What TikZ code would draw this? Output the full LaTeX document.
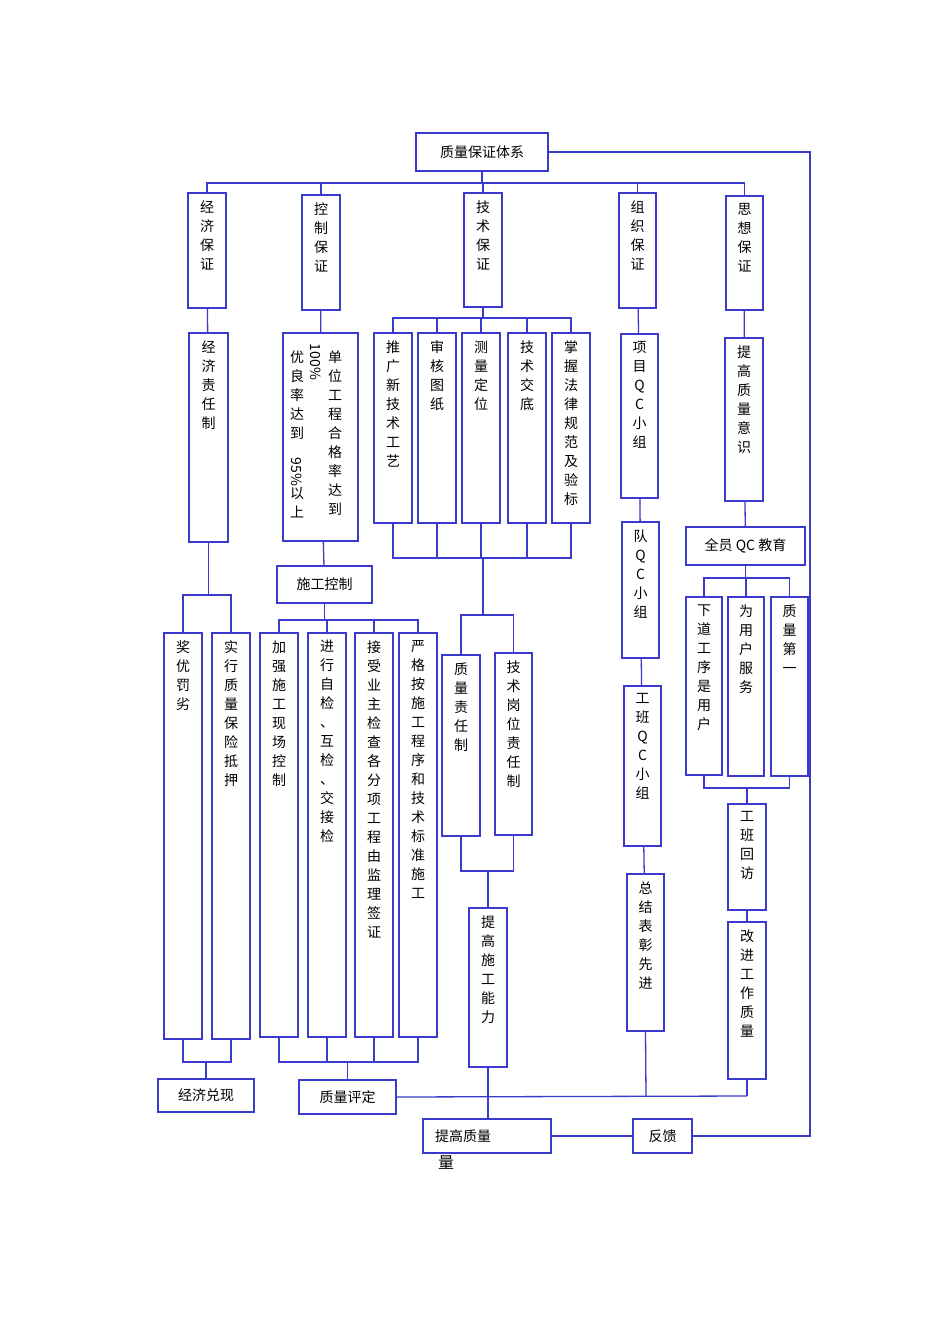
\documentclass[tikz,border=0pt]{standalone}
\usepackage{fontspec}
\setmainfont{Noto Sans CJK SC}
\definecolor{lb}{HTML}{3A3ACC}
\newcommand\VB[6]{\node[box,minimum width={#4pt-#2pt},minimum height={#5pt-#3pt},label={[vlab]north:{#6}}] (#1) at ({(#2+#4)/2},{(#3+#5)/2}) {};}
\newcommand\HB[6]{\node[box,minimum width={#4pt-#2pt},minimum height={#5pt-#3pt},font=\fontsize{14}{16}\selectfont] (#1) at ({(#2+#4)/2},{(#3+#5)/2}) {#6};}
\begin{document}
\begin{tikzpicture}[x=1pt,y=-1pt,
 box/.style={draw=lb,line width=1.4pt,inner sep=0pt,rectangle},
 vlab/.style={anchor=north,yshift=-8pt,inner sep=0pt,align=center,font=\fontsize{14}{19}\selectfont},
 ln/.style={draw=lb,line width=1.3pt}]
\useasboundingbox (0,0) rectangle (950,1344);
\HB{top}{416}{133}{548}{171}{质量保证体系}
\VB{jjbz}{188}{193}{226}{308}{经\\济\\保\\证}
\VB{kzbz}{302}{195}{340}{310}{控\\制\\保\\证}
\VB{jsbz}{464}{193}{502}{307}{技\\术\\保\\证}
\VB{zzbz}{619}{193}{656}{308}{组\\织\\保\\证}
\VB{sxbz}{726}{196}{763}{310}{思\\想\\保\\证}
\VB{jjzr}{189}{333}{228}{542}{经\\济\\责\\任\\制}
\node[box,minimum width=75pt,minimum height=208pt] (dwgc) at (320.5,437) {};
\node[vlab,anchor=north] (dwt1) at (335,343) {单\\位\\工\\程\\合\\格\\率\\达\\到};
\node[inner sep=0pt,rotate=-90,font=\fontsize{14}{16}\selectfont] (dwt2) at (316,362) {100\%};
\node[vlab,anchor=north] (dwt3) at (297,343) {优\\良\\率\\达\\到\\\rotatebox{-90}{95\%}\\以\\上};
\VB{tg}{374}{333}{412}{523}{推\\广\\新\\技\\术\\工\\艺}
\VB{sh}{418}{333}{456}{523}{审\\核\\图\\纸}
\VB{cl}{462}{333}{500}{523}{测\\量\\定\\位}
\VB{jd}{508}{333}{546}{523}{技\\术\\交\\底}
\VB{zw}{552}{333}{590}{523}{掌\\握\\法\\律\\规\\范\\及\\验\\标}
\VB{xm}{621}{334}{658}{498}{项\\目\\Q\\C\\小\\组}
\VB{tgzl}{725}{338}{763}{501}{提\\高\\质\\量\\意\\识}
\VB{dqc}{622}{522}{659}{658}{队\\Q\\C\\小\\组}
\HB{qy}{686}{527}{805}{565}{全员 QC 教育}
\HB{sgkz}{277}{566}{372}{603}{施工控制}
\VB{jy}{164}{633}{202}{1039}{奖\\优\\罚\\劣}
\VB{sx}{212}{633}{250}{1039}{实\\行\\质\\量\\保\\险\\抵\\押}
\VB{jq}{260}{633}{298}{1037}{加\\强\\施\\工\\现\\场\\控\\制}
\VB{jx}{308}{633}{346}{1037}{进\\行\\自\\检\\、\\互\\检\\、\\交\\接\\检}
\VB{js}{355}{633}{393}{1037}{接\\受\\业\\主\\检\\查\\各\\分\\项\\工\\程\\由\\监\\理\\签\\证}
\VB{yg}{399}{633}{437}{1037}{严\\格\\按\\施\\工\\程\\序\\和\\技\\术\\标\\准\\施\\工}
\VB{zlzr}{442}{655}{480}{836}{质\\量\\责\\任\\制}
\VB{jsgw}{495}{653}{532}{835}{技\\术\\岗\\位\\责\\任\\制}
\VB{xd}{686}{597}{722}{775}{下\\道\\工\\序\\是\\用\\户}
\VB{wy}{728}{597}{764}{776}{为\\用\\户\\服\\务}
\VB{zd}{771}{597}{808}{776}{质\\量\\第\\一}
\VB{gb}{624}{686}{661}{846}{工\\班\\Q\\C\\小\\组}
\VB{gbhf}{728}{804}{766}{910}{工\\班\\回\\访}
\VB{zj}{627}{874}{664}{1031}{总\\结\\表\\彰\\先\\进}
\VB{tgsg}{469}{908}{507}{1067}{提\\高\\施\\工\\能\\力}
\VB{gj}{728}{922}{766}{1079}{改\\进\\工\\作\\质\\量}
\HB{jjdx}{158}{1079}{254}{1112}{经济兑现}
\HB{zlpd}{299}{1080}{396}{1114}{质量评定}
\node[box,minimum width=128pt,minimum height=34pt] (tgzl2) at (487,1136) {};
\node[inner sep=0pt,font=\fontsize{14}{16}\selectfont,anchor=west] (tgt) at (435,1136) {提高质量};
\node[inner sep=0pt,font=\fontsize{16}{16}\selectfont] (tgt2) at (446,1162) {量};
\HB{fk}{633}{1119}{692}{1153}{反馈}
% coordinates
\coordinate (b1) at (0,183);
\coordinate (b2) at (0,318);
\coordinate (b3) at (0,558);
\coordinate (b4) at (0,615);
\coordinate (b5) at (0,871);
\coordinate (b6) at (0,595);
\coordinate (b7) at (0,1062);
\coordinate (b8) at (0,620);
\coordinate (b9) at (0,578);
\coordinate (b10) at (0,788);
\coordinate (b11) at (0,1096);
\coordinate (r1) at (810,0);
\coordinate (mid) at (483,0);
\coordinate (qc) at (646,0);
\coordinate (gx) at (747,0);
% top bus
\draw[ln] (top) -- (top|-b1);
\draw[ln] (jjbz.north) -- (jjbz.north|-b1) -- (sxbz.north|-b1) -- (sxbz.north);
\foreach \n in {kzbz,jsbz,zzbz} \draw[ln] (\n.north) -- (\n.north|-b1);
\draw[ln] (top.east) -- (r1|-top.east) -- (r1|-fk.east) -- (fk.east);
% column 1
\draw[ln] (jjbz) -- (jjzr);
\draw[ln] (jjzr.south) -- (jjzr.south|-b6);
\draw[ln] (jy.north) -- (jy.north|-b6) -- (sx.north|-b6) -- (sx.north);
\draw[ln] (jy.south) -- (jy.south|-b7) -- (sx.south|-b7) -- (sx.south);
\draw[ln] (jjdx.north|-b7) -- (jjdx.north);
% column 2
\draw[ln] (kzbz) -- (dwgc);
\draw[ln] (dwgc) -- (sgkz);
\draw[ln] (sgkz.south) -- (sgkz.south|-b8);
\draw[ln] (jq.north) -- (jq.north|-b8) -- (yg.north|-b8) -- (yg.north);
\foreach \n in {jx,js} \draw[ln] (\n.north) -- (\n.north|-b8);
\draw[ln] (jq.south) -- (jq.south|-b7) -- (yg.south|-b7) -- (yg.south);
\foreach \n in {jx,js} \draw[ln] (\n.south) -- (\n.south|-b7);
\draw[ln] (zlpd.north|-b7) -- (zlpd.north);
% column 3
\draw[ln] (jsbz.south) -- (jsbz.south|-b2);
\draw[ln] (tg.north) -- (tg.north|-b2) -- (zw.north|-b2) -- (zw.north);
\foreach \n in {sh,cl,jd} \draw[ln] (\n.north) -- (\n.north|-b2);
\draw[ln] (tg.south) -- (tg.south|-b3) -- (zw.south|-b3) -- (zw.south);
\foreach \n in {sh,cl,jd} \draw[ln] (\n.south) -- (\n.south|-b3);
\draw[ln] (mid|-b3) -- (mid|-b4);
\draw[ln] (zlzr.north) -- (zlzr.north|-b4) -- (jsgw.north|-b4) -- (jsgw.north);
\draw[ln] (zlzr.south) -- (zlzr.south|-b5) -- (jsgw.south|-b5) -- (jsgw.south);
\draw[ln] (tgsg.north|-b5) -- (tgsg.north);
\draw[ln] (tgsg.south) -- (tgsg.south|-tgzl2.north);
% column 4
\draw[ln] (zzbz) -- (xm);
\draw[ln] (xm) -- (dqc);
\draw[ln] (dqc) -- (gb);
\draw[ln] (gb) -- (zj);
\draw[ln] (zj.south) -- (qc|-b11);
% column 5
\draw[ln] (sxbz) -- (tgzl);
\draw[ln] (tgzl) -- (qy);
\draw[ln] (qy.south) -- (qy.south|-b9);
\draw[ln] (xd.north) -- (xd.north|-b9) -- (zd.north|-b9) -- (zd.north);
\draw[ln] (wy.north) -- (wy.north|-b9);
\draw[ln] (xd.south) -- (xd.south|-b10) -- (zd.south|-b10) -- (zd.south);
\draw[ln] (gx|-b10) -- (gbhf.north);
\draw[ln] (gbhf) -- (gj);
\draw[ln] (gj.south) -- (gx|-b11);
% bottom
\draw[ln] (zlpd.east) -- (gx|-b11);
\draw[ln] (tgzl2) -- (fk);
\end{tikzpicture}
\end{document}
